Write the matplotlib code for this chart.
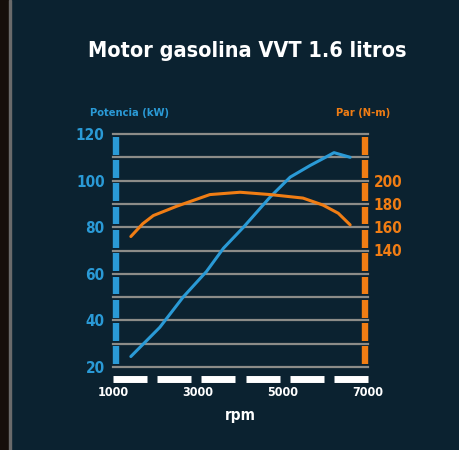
import matplotlib
matplotlib.use("Agg")
import matplotlib.pyplot as plt
import matplotlib.transforms as mtransforms

plt.rcParams['font.family'] = ['DejaVu Sans']
plt.rcParams['font.weight'] = 'bold'
plt.rcParams['font.stretch'] = 'condensed'
plt.rcParams['axes.labelweight'] = 'bold'

# datos
rpm_pot = [1420, 2100, 2650, 3200, 3600, 4070, 4700, 5170, 5640, 6000, 6200, 6580]
potencia = [24.5, 37, 50, 61, 71, 80, 93, 101.5, 106.5, 110, 112, 110]

rpm_par = [1420, 1700, 1950, 2500, 3280, 3990, 4700, 5470, 5940, 6300, 6580]
par = [152, 163, 170, 178, 188, 190, 188, 185, 179, 172, 162]

pot_ticks = [20, 40, 60, 80, 100, 120]
par_ticks = [140, 160, 180, 200]
rpm_ticks = [1000, 3000, 5000, 7000]

BG = '#0b2230'
BLUE = '#2a9ad6'
ORANGE = '#f07d14'
GRID = '#8c8c88'

fig = plt.figure(figsize=(4.59, 4.5), dpi=100)
fig.patch.set_facecolor(BG)
# franja oscura a la izquierda
fig.patches.append(plt.Rectangle((0, 0), 9 / 459, 1, transform=fig.transFigure,
                                 color='#150e0a', zorder=0))
fig.patches.append(plt.Rectangle((9 / 459, 0), 1.5 / 459, 1, transform=fig.transFigure,
                                 color='#6a6a6a', zorder=0))

ax = fig.add_axes([113 / 459, 1 - 367 / 450, 255 / 459, 233 / 450])
ax.set_facecolor(BG)
ax.set_xlim(1000, 7000)
ax.set_ylim(20, 120)
for s in ax.spines.values():
    s.set_visible(False)

# lineas horizontales
for v in range(20, 121, 10):
    ax.axhline(v, color=GRID, lw=1.6, zorder=1, clip_on=False)

# barras de color a los lados
tr_y = mtransforms.blended_transform_factory(ax.transAxes, ax.transData)
for v in range(20, 120, 10):
    ax.plot([0.01, 0.01], [v + 1.2, v + 8.8], color=BLUE, lw=4.6,
            solid_capstyle='butt', transform=tr_y, zorder=3, clip_on=False)
    ax.plot([0.988, 0.988], [v + 1.2, v + 8.8], color=ORANGE, lw=4.6,
            solid_capstyle='butt', transform=tr_y, zorder=3, clip_on=False)

# eje x a trazos blancos
tr_x = mtransforms.blended_transform_factory(ax.transData, ax.transAxes)
for k in range(6):
    x0 = 1000 + k * 1040
    ax.plot([x0, x0 + 800], [-0.05, -0.05], color='white', lw=5,
            solid_capstyle='butt', transform=tr_x, clip_on=False)

ax.plot(rpm_pot, potencia, color=BLUE, lw=2.2, zorder=4, solid_capstyle='round')

ax2 = ax.twinx()
ax2.set_ylim(40, 240)
for s in ax2.spines.values():
    s.set_visible(False)
ax2.plot(rpm_par, par, color=ORANGE, lw=2.2, zorder=4, solid_capstyle='round')

ax.set_yticks(pot_ticks)
ax.set_yticklabels([str(t) for t in pot_ticks])
ax.tick_params(axis='y', length=0, pad=6, labelcolor=BLUE, labelsize=11)
ax2.set_yticks(par_ticks)
ax2.set_yticklabels([str(t) for t in par_ticks])
ax2.tick_params(axis='y', length=0, pad=4, labelcolor=ORANGE, labelsize=11)

ax.set_xticks(rpm_ticks)
ax.set_xticklabels([str(t) for t in rpm_ticks])
ax.tick_params(axis='x', length=0, pad=14, labelcolor='white', labelsize=9)

ax.set_xlabel('rpm', color='white', fontsize=11, labelpad=6)

fig.text(130 / 459, 1 - 113 / 450, 'Potencia (kW)', color=BLUE, fontsize=8,
         ha='center', va='center')
fig.text(363 / 459, 1 - 113 / 450, 'Par (N-m)', color=ORANGE, fontsize=8,
         ha='center', va='center')
fig.text(247 / 459, 1 - 51 / 450, 'Motor gasolina VVT 1.6 litros', color='white',
         fontsize=15.5, ha='center', va='center')

fig.savefig('out.png', dpi=100, facecolor=BG)
